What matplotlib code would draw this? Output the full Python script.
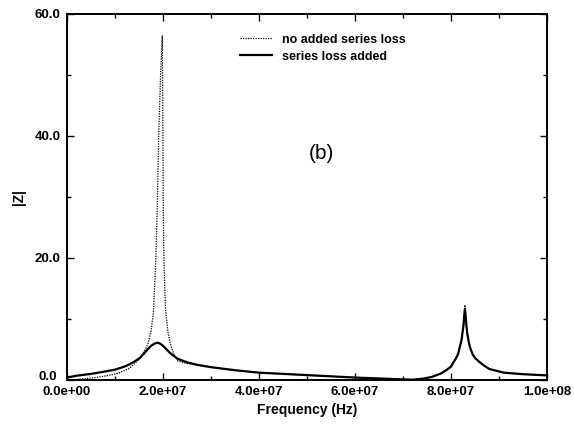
import matplotlib
matplotlib.use("Agg")
import matplotlib.pyplot as plt
from matplotlib.ticker import MultipleLocator

plt.rcParams['font.family'] = ['Liberation Sans', 'DejaVu Sans']

# frequency in MHz, |Z| values
f_solid = [0, 2, 5, 8, 10, 12, 13, 14, 15, 16, 17, 17.6, 18.2, 18.7, 19.2, 19.8, 20.5, 21.5, 23, 25, 27, 30,
           35, 40, 45, 50, 55, 60, 65, 70, 72, 74, 76, 77, 78, 79, 80, 80.5, 81, 81.5, 81.8, 82.2, 82.4,
           82.6, 82.75, 82.9, 83.05, 83.2, 83.35, 83.6, 83.9, 84.5, 85, 86, 87, 88, 91, 95, 100]
z_solid = [0.4, 0.7, 1.0, 1.4, 1.7, 2.2, 2.55, 3.0, 3.5, 4.3, 5.2, 5.65, 5.95, 6.1, 6.05, 5.75, 5.2, 4.4, 3.5, 2.9, 2.5, 2.1,
           1.6, 1.2, 1.0, 0.8, 0.6, 0.4, 0.25, 0.1, 0.05, 0.2, 0.5, 0.8, 1.1, 1.6, 2.2, 2.9, 3.5, 4.3, 5.3, 6.6, 7.8,
           9.0, 10.5, 11.6, 10.5, 9.0, 7.8, 6.6, 5.5, 4.2, 3.6, 2.9, 2.3, 1.8, 1.2, 0.95, 0.75]

f_dot = [0, 3, 6, 9, 11, 13, 14.5, 15.5, 16.3, 16.9, 17.5, 18.0, 18.5, 18.8, 19.1, 19.5, 19.85,
         19.95, 20.0, 20.06, 20.2, 20.5, 21.0, 21.5, 22.3, 23.1, 25, 27, 30,
         35, 40, 45, 50, 55, 60, 65, 70, 72, 74, 76, 77, 78, 79, 80, 80.5, 81, 81.5, 81.8, 82.2, 82.4,
         82.6, 82.75, 82.9, 83.05, 83.2, 83.35, 83.6, 83.9, 84.5, 85, 86, 87, 88, 91, 95, 100]
z_dot = [0.0, 0.15, 0.4, 0.8, 1.2, 1.9, 3.0, 3.8, 5.0, 6.0, 8.0, 11.0, 19.6, 28, 40, 50, 56.4,
         45, 38, 28, 19.6, 12, 8.0, 6.0, 4.2, 3.1, 2.7, 2.5, 2.1,
         1.6, 1.2, 1.0, 0.8, 0.6, 0.4, 0.25, 0.1, 0.05, 0.2, 0.5, 0.8, 1.1, 1.6, 2.2, 2.9, 3.5, 4.3, 5.3, 6.6, 7.8,
         9.0, 10.8, 12.3, 10.8, 9.0, 7.8, 6.6, 5.5, 4.2, 3.6, 2.9, 2.3, 1.8, 1.2, 0.95, 0.75]

x_ticks = [0, 2e7, 4e7, 6e7, 8e7, 1e8]
x_tick_labels = ["0.0e+00", "2.0e+07", "4.0e+07", "6.0e+07", "8.0e+07", "1.0e+08"]
y_ticks = [0, 20, 40, 60]
y_tick_labels = ["0.0", "20.0", "40.0", "60.0"]

fig = plt.figure(figsize=(5.74, 4.24), dpi=100)
ax = fig.add_axes([0.1167, 0.1038, 0.953 - 0.1167, 0.967 - 0.1038])

ax.plot([v * 1e6 for v in f_dot], z_dot, color='black', linestyle=(0, (1, 1)), linewidth=0.9,
        label='no added series loss')
ax.plot([v * 1e6 for v in f_solid], z_solid, color='black', linewidth=1.6,
        label='series loss added')

ax.set_xlim(0, 1e8)
ax.set_ylim(0, 60)
ax.set_xticks(x_ticks)
ax.set_xticklabels(x_tick_labels)
ax.set_yticks(y_ticks)
ax.set_yticklabels(y_tick_labels)
ax.xaxis.set_minor_locator(MultipleLocator(1e7))
ax.yaxis.set_minor_locator(MultipleLocator(10))
ax.tick_params(which='both', direction='in', top=True, right=True, width=1)
ax.tick_params(which='major', length=5, labelsize=9.5)
ax.tick_params(axis='x', which='major', pad=4)
ax.tick_params(axis='y', which='major', pad=14)
ax.tick_params(which='minor', length=3)
for lab in ax.get_xticklabels() + ax.get_yticklabels():
    lab.set_fontweight('bold')
for lab in ax.get_yticklabels():
    lab.set_horizontalalignment('center')
ax.get_yticklabels()[0].set_verticalalignment('baseline')
for s in ax.spines.values():
    s.set_linewidth(1.4)

ax.set_xlabel('Frequency (Hz)', fontsize=10, fontweight='bold', labelpad=4)
ax.set_ylabel('|Z|', fontsize=10, fontweight='bold', labelpad=6)

ax.text(0.53, 0.62, '(b)', transform=ax.transAxes, fontsize=15, ha='center', va='center')

leg = ax.legend(loc='upper left', bbox_to_anchor=(0.35, 0.96), frameon=False,
                prop={'size': 9, 'weight': 'bold'}, handlelength=2.6, handletextpad=0.8,
                labelspacing=0.4, borderaxespad=0)

fig.savefig('out.png', dpi=100)
